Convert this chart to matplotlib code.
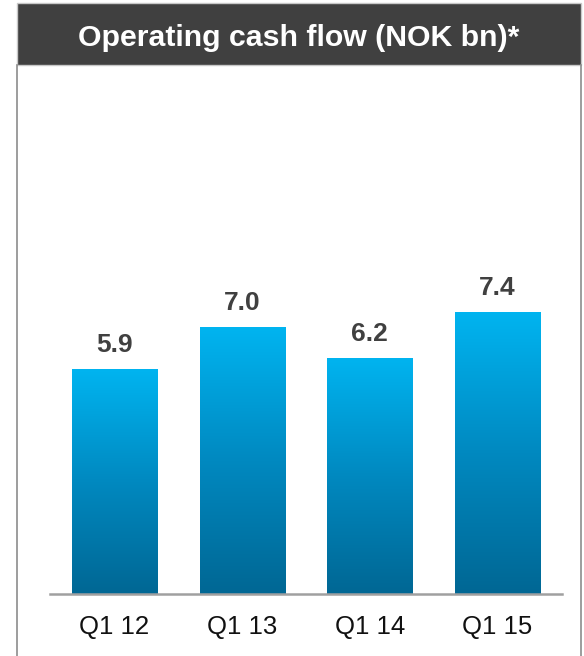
import numpy as np
import matplotlib
matplotlib.use("Agg")
import matplotlib.pyplot as plt
from matplotlib.patches import Rectangle
from matplotlib.colors import LinearSegmentedColormap
from matplotlib.lines import Line2D

OUT_PNG = "out.png"

TITLE = "Operating cash flow (NOK bn)*"
QUARTERS = ["Q1 12", "Q1 13", "Q1 14", "Q1 15"]
CASH_FLOW = [5.9, 7.0, 6.2, 7.4]

W, H, DPI = 584, 656, 100
BAR_WIDTH = 0.666
HEADER_GREY = "#404040"
FRAME_GREY = "#8c8c8c"

plt.rcParams['font.family'] = ['Liberation Sans', 'DejaVu Sans']

fig = plt.figure(figsize=(W / DPI, H / DPI), dpi=DPI)

def fx(px):
    return px / W

def fy(py):
    return 1 - py / H

# dark title band with a thin frame running down the sides
fig.patches.append(Rectangle((fx(16.5), fy(65)), fx(581) - fx(16.5), fy(3) - fy(65),
                             transform=fig.transFigure, facecolor=HEADER_GREY,
                             edgecolor="#c8c8c8", linewidth=1.0, zorder=1))
fig.lines.append(Line2D([fx(16.5), fx(16.5)], [fy(65), 0], transform=fig.transFigure,
                        color=FRAME_GREY, linewidth=1.2))
fig.lines.append(Line2D([fx(581), fx(581)], [fy(65), 0], transform=fig.transFigure,
                        color=FRAME_GREY, linewidth=1.2))
fig.text(fx(298.5), fy(45.7), TITLE, color="white", fontsize=21.8, fontweight="bold",
         ha="center", va="baseline")

ax = fig.add_axes([fx(50), fy(594), fx(562) - fx(50), fy(65) - fy(594)])

x = np.arange(len(QUARTERS))
bars = ax.bar(x, CASH_FLOW, width=BAR_WIDTH, facecolor="none", edgecolor="none")

# vertical gradient inside each bar, light on top, dark at the base
grad_cmap = LinearSegmentedColormap.from_list("cf", ["#006794", "#0089c0", "#00b4f0"])
grad = np.linspace(0, 1, 256).reshape(-1, 1)
for bar, val in zip(bars, CASH_FLOW):
    x0 = bar.get_x()
    im = ax.imshow(grad, cmap=grad_cmap, origin="lower", aspect="auto",
                   extent=(x0, x0 + bar.get_width(), 0, val), zorder=2)
    im.set_clip_path(bar)
    ax.annotate(f"{val:.1f}", (x0 + bar.get_width() / 2, val), xytext=(0, 12.2),
                textcoords="offset points", ha="center", va="baseline",
                fontsize=19, fontweight="bold", color=HEADER_GREY)

ax.set_xlim(-0.505, len(QUARTERS) - 1 + 0.505)
ax.set_ylim(0, (594 - 65) / 38.1)

for side in ["top", "right", "left"]:
    ax.spines[side].set_visible(False)
ax.spines["bottom"].set_color("#a0a0a0")
ax.spines["bottom"].set_linewidth(1.8)
ax.spines["bottom"].set_zorder(3)
ax.set_yticks([])
ax.set_xticks(x)
ax.set_xticklabels(QUARTERS, fontsize=18.5, color="#111111")
ax.tick_params(axis="x", length=0, pad=15)
ax.patch.set_alpha(0)

fig.savefig(OUT_PNG, dpi=DPI)
